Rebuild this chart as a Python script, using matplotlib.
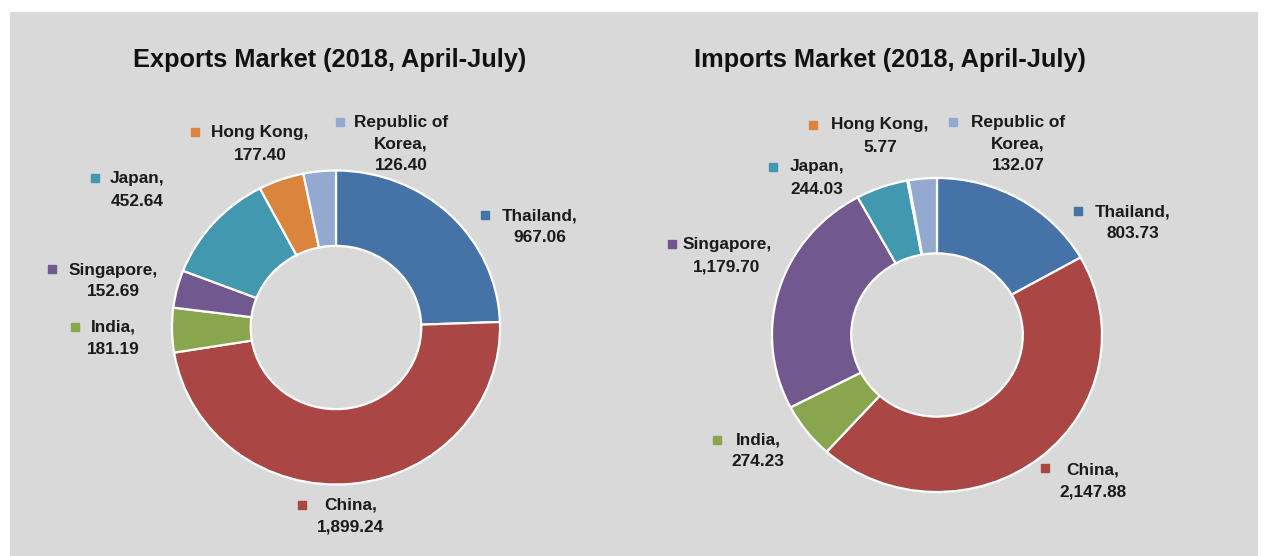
import matplotlib
matplotlib.use('Agg')
import matplotlib.pyplot as plt
from matplotlib.patches import Rectangle

# data (USD million)
categories = ['Thailand', 'China', 'India', 'Singapore', 'Japan', 'Hong Kong', 'Republic of\nKorea']
exports = [967.06, 1899.24, 181.19, 152.69, 452.64, 177.40, 126.40]
imports = [803.73, 2147.88, 274.23, 1179.70, 244.03, 5.77, 132.07]
titles = ['Exports Market (2018, April-July)', 'Imports Market (2018, April-July)']

colors = ['#4572A7', '#AA4643', '#89A54E', '#71588F', '#4198AF', '#DB843D', '#93A9CF']

W, H = 1267, 556
plt.rcParams['font.family'] = ['Liberation Sans', 'DejaVu Sans']

fig = plt.figure(figsize=(W / 100, H / 100), dpi=100, facecolor='white')

# gray panel behind everything
fig.add_artist(Rectangle((10 / W, 0), (1258 - 10) / W, (H - 12) / H,
                         transform=fig.transFigure, facecolor='#d9d9d9',
                         edgecolor='none', zorder=-1))

# layout in pixels: donut centre / radii, title centre, label anchors
donuts = [
    dict(cx=336, cy=327.5, rx=164, ry=157, title=(330, 60),
         labels=[((485, 215), (540, 216)), ((302, 505), (351, 505)),
                 ((75, 327), (113, 327)), ((52, 269), (113, 270)),
                 ((95, 178), (137, 179)), ((195, 132), (260, 133)),
                 ((340, 122), (401, 122))]),
    dict(cx=937, cy=335, rx=165, ry=157, title=(890, 60),
         labels=[((1078, 211), (1133, 212)), ((1045, 468), (1093, 470)),
                 ((717, 440), (758, 440)), ((672, 244), (727, 245)),
                 ((773, 167), (817, 167)), ((813, 125), (880, 125)),
                 ((953, 122), (1018, 122))]),
]

overlay = fig.add_axes([0, 0, 1, 1], zorder=5)
overlay.set_xlim(0, W)
overlay.set_ylim(H, 0)
overlay.axis('off')
overlay.patch.set_alpha(0)

line_gap = 22
for values, title, d in zip([exports, imports], titles, donuts):
    ax = fig.add_axes([(d['cx'] - d['rx']) / W, (H - d['cy'] - d['ry']) / H,
                       2 * d['rx'] / W, 2 * d['ry'] / H])
    ax.pie(values, colors=colors, startangle=90, counterclock=False, radius=1,
           wedgeprops=dict(width=0.48, edgecolor='white', linewidth=1.6))
    ax.set_aspect('auto')
    ax.set_xlim(-1, 1)
    ax.set_ylim(-1, 1)
    ax.axis('off')

    overlay.text(d['title'][0], d['title'][1], title, ha='center', va='center',
                 fontsize=18.3, fontweight='bold', color='#111111')

    for name, val, col, ((mx, my), (tx, ty)) in zip(categories, values, colors, d['labels']):
        overlay.plot(mx, my, marker='s', markersize=6, color=col, linestyle='none')
        lines = (name + ',').split('\n') + [f'{val:,.2f}']
        for i, ln in enumerate(lines):
            overlay.text(tx, ty + i * line_gap, ln, ha='center', va='center',
                         fontsize=12.4, fontweight='bold', color='#1a1a1a')

fig.savefig('out.png', dpi=100, facecolor='white')
